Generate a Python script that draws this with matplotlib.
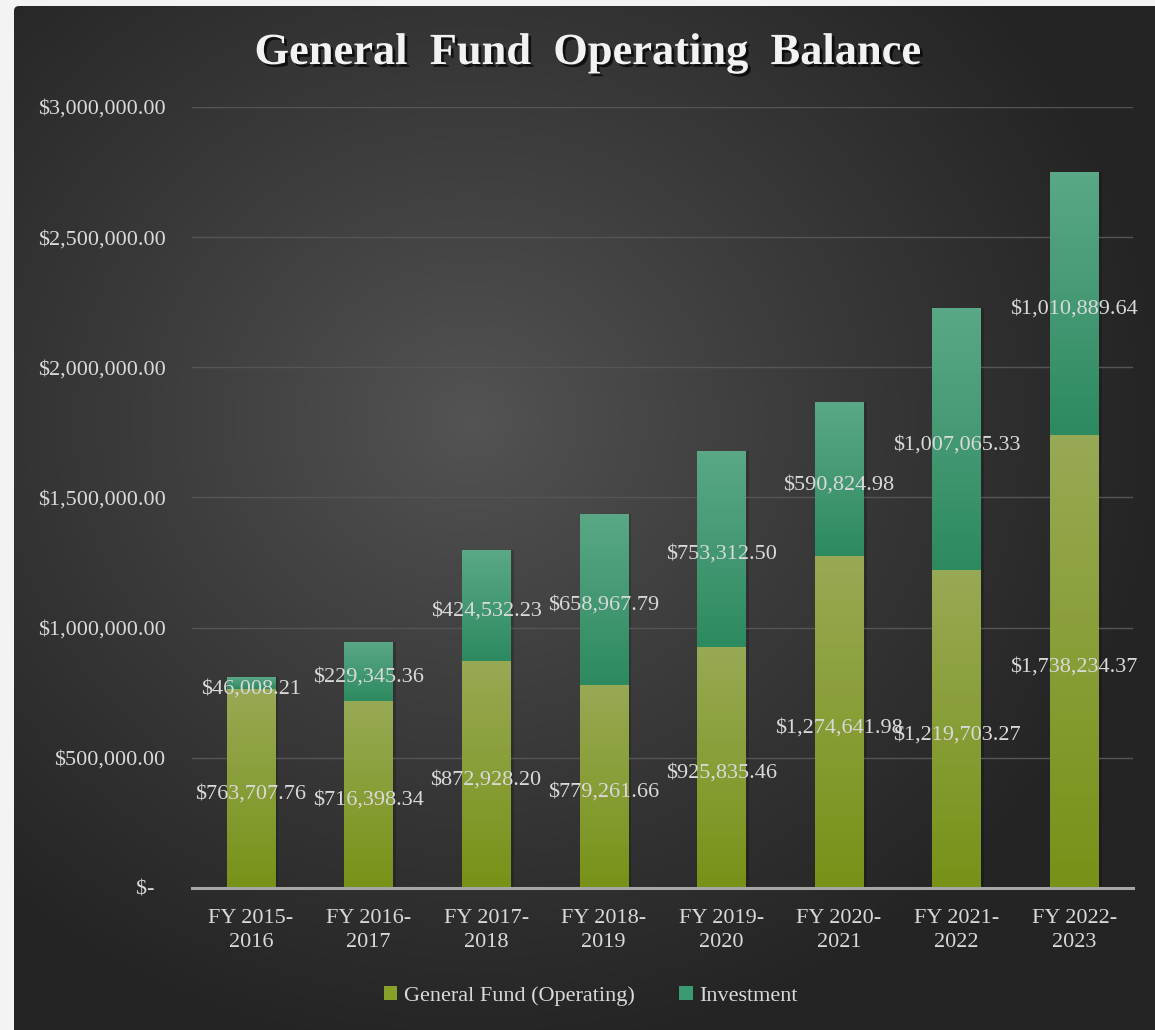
import numpy as np
import matplotlib
matplotlib.use("Agg")
import matplotlib.pyplot as plt
import matplotlib.patheffects as pe
from matplotlib.patches import Patch, FancyBboxPatch
from matplotlib.ticker import FuncFormatter

years = ["FY 2015-\n2016", "FY 2016-\n2017", "FY 2017-\n2018", "FY 2018-\n2019",
         "FY 2019-\n2020", "FY 2020-\n2021", "FY 2021-\n2022", "FY 2022-\n2023"]
general_fund = [763707.76, 716398.34, 872928.20, 779261.66,
                925835.46, 1274641.98, 1219703.27, 1738234.37]
investment = [46008.21, 229345.36, 424532.23, 658967.79,
              753312.50, 590824.98, 1007065.33, 1010889.64]

plt.rcParams["font.family"] = ["Liberation Serif", "DejaVu Serif"]
txt = "#d9d9d9"

W, H = 1155, 1030
fig = plt.figure(figsize=(W / 100, H / 100), dpi=100, facecolor="#f3f3f3")

# dark panel with a soft radial glow
bg = fig.add_axes([0, 0, 1, 1], zorder=-5)
bg.set_xlim(0, W)
bg.set_ylim(H, 0)
bg.axis("off")
yy, xx = np.mgrid[0:H:2, 0:W:2]
r = np.hypot((xx - 470) / 700, (yy - 420) / 640)
shade = 84 - 48 * np.clip(r, 0, 1) ** 0.9
img = np.dstack([shade, shade, shade]) / 255
panel = FancyBboxPatch((14, 6), W + 20, H, boxstyle="round,pad=0,rounding_size=5",
                       transform=bg.transData, facecolor="none", edgecolor="none")
bg.add_patch(panel)
im = bg.imshow(img, extent=[0, W, H, 0], aspect="auto")
im.set_clip_path(panel)

ax = fig.add_axes([192 / W, 1 - 888 / H, (1133 - 192) / W, (888 - 107) / H])
ax.set_facecolor("none")
x = np.arange(len(years))
bw = 0.41

gf_bars = ax.bar(x, general_fund, bw, color="#86a02a", zorder=2)
inv_bars = ax.bar(x, investment, bw, bottom=general_fund, color="#3a9a72", zorder=2)


def fill_gradient(bars, top, bottom):
    ramp = np.linspace(0, 1, 64)[:, None, None]
    grad = np.array(top)[None, None, :] * (1 - ramp) + np.array(bottom)[None, None, :] * ramp
    for b in bars:
        x0, y0, w, h = b.get_x(), b.get_y(), b.get_width(), b.get_height()
        g = ax.imshow(grad / 255, extent=[x0, x0 + w, y0, y0 + h], aspect="auto",
                      origin="upper", zorder=3)
        g.set_clip_path(b)
        # faint shadow on the right side of each segment
        ax.add_patch(plt.Rectangle((x0 + w, y0), 0.03, h, color="black",
                                   alpha=0.18, lw=0, zorder=1.5))


fill_gradient(gf_bars, (151, 169, 84), (120, 146, 24))
fill_gradient(inv_bars, (90, 168, 134), (45, 138, 96))

ax.set_xlim(-0.5, len(years) - 0.5)
ax.set_ylim(0, 3000000)
ax.set_yticks(np.arange(0, 3000001, 500000))
ax.yaxis.set_major_formatter(FuncFormatter(
    lambda v, p: "$-  " if v == 0 else f"${v:,.2f}"))
ax.set_xticks(x)
ax.set_xticklabels(years, linespacing=1.4)
ax.tick_params(axis="y", length=0, pad=19, labelsize=16, labelcolor=txt)
ax.tick_params(axis="x", length=0, pad=15, labelsize=16, labelcolor=txt)
ax.grid(axis="y", color="#555555", lw=1, zorder=0)
for s in ["top", "right", "left"]:
    ax.spines[s].set_visible(False)
ax.spines["bottom"].set_color("#a6a6a6")
ax.spines["bottom"].set_linewidth(2.2)
ax.spines["bottom"].set_zorder(4)

for i in x:
    ax.annotate(f"${general_fund[i]:,.2f}", (i, general_fund[i] / 2),
                xytext=(0, -4), textcoords="offset points", ha="center",
                va="center", fontsize=16, color=txt, zorder=5)
    ax.annotate(f"${investment[i]:,.2f}", (i, general_fund[i] + investment[i] / 2),
                xytext=(0, -4), textcoords="offset points", ha="center",
                va="center", fontsize=16, color=txt, zorder=5)

fig.text(588 / W, 1 - 53 / H, "General  Fund  Operating  Balance", ha="center",
         va="center", fontsize=32, fontweight="bold", color="#f2f2f2",
         path_effects=[pe.withSimplePatchShadow(offset=(2, -2), shadow_rgbFace="black",
                                                alpha=0.7)])

handles = [Patch(facecolor="#86a02a", label="General Fund (Operating)"),
           Patch(facecolor="#3a9a72", label="Investment")]
fig.legend(handles=handles, loc="center", bbox_to_anchor=(591 / W, 1 - 996 / H),
           ncol=2, frameon=False, fontsize=16, labelcolor=txt, handlelength=0.6,
           handleheight=0.6, handletextpad=0.3, columnspacing=2.0)

fig.savefig("out.png", dpi=100, facecolor=fig.get_facecolor())
